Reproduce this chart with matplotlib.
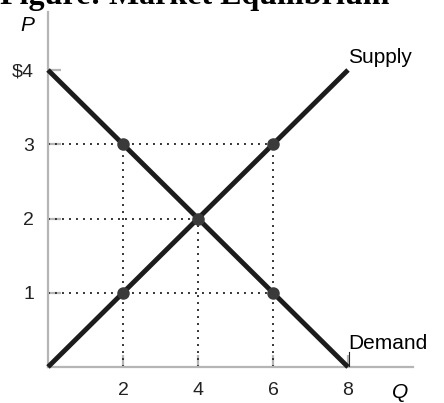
import matplotlib
matplotlib.use("Agg")
import matplotlib.pyplot as plt

plt.rcParams["font.family"] = ["Liberation Sans", "DejaVu Sans"]

# market data
q_supply = [0, 8]
p_supply = [0, 4]
q_demand = [0, 8]
p_demand = [4, 0]
point_q = [2, 6, 4, 2, 6]
point_p = [3, 3, 2, 1, 1]
x_ticks = [2, 4, 6, 8]
y_ticks = [1, 2, 3, 4]
y_tick_labels = ["1", "2", "3", "$4"]

fig = plt.figure(figsize=(4.44, 4.03), dpi=100)
ax = fig.add_axes([48 / 444, 36 / 403, 365 / 444, 355 / 403])
ax.set_xlim(0, 365 / 37.5)
ax.set_ylim(0, 355 / 74.25)

# dotted guides: one per price level / quantity level
h_guides = {}
v_guides = {}
for q, p in zip(point_q, point_p):
    h_guides[p] = max(h_guides.get(p, 0), q)
    v_guides[q] = max(v_guides.get(q, 0), p)
for p, q in h_guides.items():
    ax.plot([0, q], [p, p], color="#333333", lw=1.4, ls=(0, (1, 2.6)), zorder=2)
for q, p in v_guides.items():
    ax.plot([q, q], [0, p], color="#333333", lw=1.4, ls=(0, (1, 2.6)), zorder=2)

ax.plot(q_supply, p_supply, color="#1c1c1c", lw=3.5, solid_capstyle="butt", clip_on=False, zorder=3)
ax.plot(q_demand, p_demand, color="#1c1c1c", lw=3.5, solid_capstyle="butt", clip_on=False, zorder=3)
ax.plot(point_q, point_p, "o", color="#3a3a3a", ms=8, zorder=4)

ax.text(8.0, 4.17, "Supply", fontsize=15, va="center", ha="left")
ax.text(8.0, 0.32, "Demand", fontsize=15, va="center", ha="left")
ax.plot([8.03, 8.03], [0, 0.2], color="#222222", lw=0.8, zorder=3)

ax.text(-0.56, 4.6, "P", fontsize=15, style="italic", ha="center", va="center", clip_on=False)
ax.text(9.39, -0.34, "Q", fontsize=15, style="italic", ha="center", va="center", clip_on=False)

for side in ("top", "right"):
    ax.spines[side].set_visible(False)
for side in ("left", "bottom"):
    ax.spines[side].set_color("#b5b5b5")
    ax.spines[side].set_linewidth(1.6)

ax.set_xticks(x_ticks)
ax.set_xticklabels([str(v) for v in x_ticks])
ax.set_yticks(y_ticks)
ax.set_yticklabels(y_tick_labels)
ax.tick_params(axis="both", direction="in", length=9, width=1.6, color="#b5b5b5",
               labelsize=14, labelcolor="#222222")
ax.tick_params(axis="x", pad=11)
ax.tick_params(axis="y", pad=10)

fig.text(0.0, 1 - 4 / 403, "Figure: Market Equilibrium", fontsize=23, fontweight="bold",
         family=["Liberation Serif", "DejaVu Serif"], ha="left", va="baseline")

fig.savefig("out.png", dpi=100)
